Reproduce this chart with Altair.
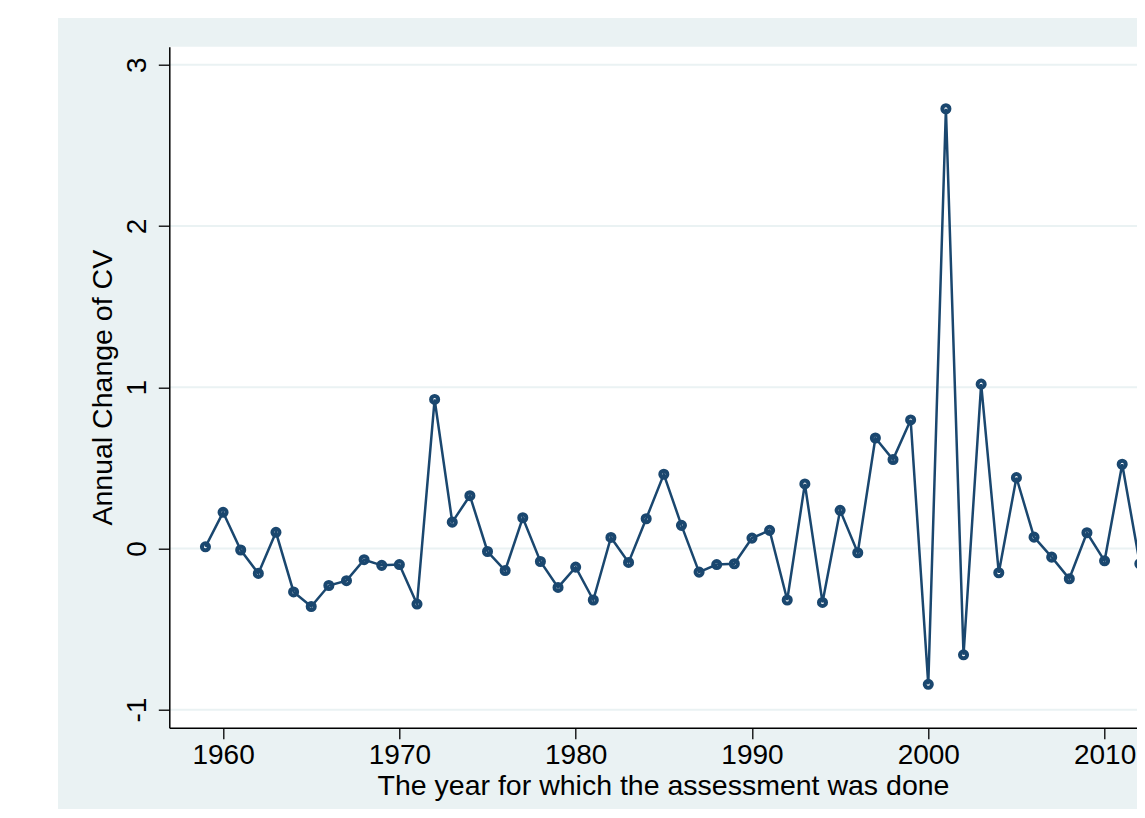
import altair as alt
import pandas as pd

# Data
years = list(range(1959, 2013))
cv_change = [
    0.01, 0.224, -0.01, -0.155, 0.10, -0.27, -0.36, -0.23, -0.20, -0.07,
    -0.105, -0.10, -0.345, 0.924, 0.163, 0.327, -0.019, -0.137, 0.19, -0.081,
    -0.242, -0.116, -0.32, 0.068, -0.087, 0.184, 0.46, 0.143, -0.147, -0.10,
    -0.095, 0.064, 0.112, -0.32, 0.40, -0.335, 0.236, -0.027, 0.685, 0.551,
    0.797, -0.843, 2.727, -0.66, 1.019, -0.151, 0.439, 0.07, -0.054, -0.188,
    0.097, -0.077, 0.522, -0.095,
]
x_ticks = [1960, 1970, 1980, 1990, 2000, 2010]
y_ticks = [-1, 0, 1, 2, 3]

df = pd.DataFrame({"year": years, "cv": cv_change})
grid_df = pd.DataFrame({"cv": y_ticks})
one = pd.DataFrame({"k": [0]})

PAD_L, PAD_T = 161.3, 38.7
W, H = 1129 - PAD_L, 681
NAVY = "#1A476F"
BG = "#EAF2F3"
FONT = "Liberation Sans"

xscale = alt.Scale(domain=[1956.95, 1956.95 + W / 17.63], nice=False, zero=False)
yscale = alt.Scale(domain=[-1.112, 3.112], nice=False, zero=False)

x_axis = alt.Axis(
    title="The year for which the assessment was done",
    values=x_ticks, format="d", grid=False,
    tickSize=11, tickWidth=1.3, tickColor="black",
    domainColor="black", domainWidth=1.5,
    labelFontSize=28, labelFont=FONT, labelColor="black", labelPadding=3,
    titleFontSize=28.5, titleFont=FONT, titleColor="black",
    titleFontWeight="normal", titlePadding=2, titleX=493.7, titleAlign="center",
    zindex=1,
)
y_axis = alt.Axis(
    title="Annual Change of CV",
    values=y_ticks, format="d", grid=False,
    labelExpr="datum.value < 0 ? '-' + abs(datum.value) : datum.label",
    tickSize=11, tickWidth=1.3, tickColor="black",
    domainColor="black", domainWidth=1.5,
    labelFontSize=28, labelFont=FONT, labelColor="black",
    labelAngle=270, labelAlign="center", labelBaseline="bottom", labelPadding=7,
    titleFontSize=28.5, titleFont=FONT, titleColor="black",
    titleFontWeight="normal", titlePadding=6, zindex=1,
)

outer_bg = alt.Chart(one).mark_rect(color=BG).encode(
    x=alt.value(-111.3), x2=alt.value(W + 60),
    y=alt.value(-28.7), y2=alt.value(H + 200),
)
plot_bg = alt.Chart(one).mark_rect(color="white").encode(
    x=alt.value(0), x2=alt.value(W + 40), y=alt.value(0), y2=alt.value(H),
)
grid = alt.Chart(grid_df).mark_rule(color=BG, strokeWidth=2).encode(
    y=alt.Y("cv:Q", scale=yscale, axis=y_axis),
    x=alt.value(0), x2=alt.value(W + 40),
)

x_enc = alt.X("year:Q", scale=xscale, axis=x_axis)
y_enc = alt.Y("cv:Q", scale=yscale, axis=y_axis)

line = alt.Chart(df).mark_line(color=NAVY, strokeWidth=2.5).encode(x=x_enc, y=y_enc)
points = alt.Chart(df).mark_point(
    shape="circle", filled=False, color=NAVY, size=50, strokeWidth=4, opacity=1
).encode(x=x_enc, y=y_enc)

chart = alt.layer(outer_bg, plot_bg, grid, line, points).properties(
    width=W, height=H, background="white",
    padding={"left": PAD_L, "top": PAD_T, "right": 0, "bottom": 801 - PAD_T - H},
    autosize=alt.AutoSizeParams(type="none"),
).configure_view(stroke=None)

chart.save("out.html", embed_options={"renderer": "svg", "actions": False})
